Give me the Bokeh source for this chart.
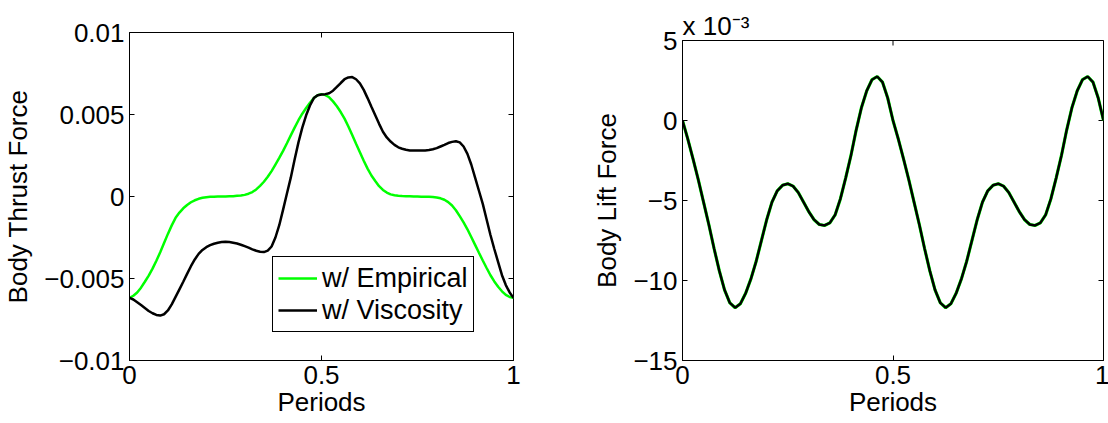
import math
from bokeh.plotting import figure
from bokeh.layouts import row, column
from bokeh.models import (FixedTicker, CustomJSTickFormatter, Title,
                          Legend, LegendItem, Range1d)
from bokeh.embed import file_html
from bokeh.resources import INLINE

# ---------------- data ----------------
periods_thrust = [0.00, 0.01, 0.02, 0.03, 0.04, 0.05, 0.06, 0.07, 0.08, 0.09,
                  0.10, 0.11, 0.12, 0.13, 0.14, 0.15, 0.16, 0.17, 0.18, 0.19,
                  0.20, 0.21, 0.22, 0.23, 0.24, 0.25, 0.26, 0.27, 0.28, 0.29,
                  0.30, 0.31, 0.32, 0.33, 0.34, 0.35, 0.36, 0.37, 0.38, 0.39,
                  0.40, 0.41, 0.42, 0.43, 0.44, 0.45, 0.46, 0.47, 0.48, 0.49,
                  0.50, 0.51, 0.52, 0.53, 0.54, 0.55, 0.56, 0.57, 0.58, 0.59,
                  0.60, 0.61, 0.62, 0.63, 0.64, 0.65, 0.66, 0.67, 0.68, 0.69,
                  0.70, 0.71, 0.72, 0.73, 0.74, 0.75, 0.76, 0.77, 0.78, 0.79,
                  0.80, 0.81, 0.82, 0.83, 0.84, 0.85, 0.86, 0.87, 0.88, 0.89,
                  0.90, 0.91, 0.92, 0.93, 0.94, 0.95, 0.96, 0.97, 0.98, 0.99, 1.00]

thrust_empirical = [
    -0.00618, -0.00605, -0.00585, -0.00556, -0.00520, -0.00482, -0.00440, -0.00392, -0.00340, -0.00284,
    -0.00228, -0.00176, -0.00130, -0.00098, -0.00072, -0.00052, -0.00035, -0.00023, -0.00014, -0.00008,
    -0.00004, -0.00002, -0.00001, 0.00000, 0.00000, 0.00000, 0.00001, 0.00002, 0.00004, 0.00006,
    0.00010, 0.00017, 0.00027, 0.00043, 0.00065, 0.00090, 0.00120, 0.00155, 0.00195, 0.00235,
    0.00278, 0.00325, 0.00373, 0.00420, 0.00465, 0.00505, 0.00540, 0.00572, 0.00600, 0.00617,
    0.00624, 0.00618, 0.00605, 0.00580, 0.00550, 0.00515, 0.00475, 0.00427, 0.00375, 0.00322,
    0.00270, 0.00218, 0.00170, 0.00128, 0.00095, 0.00063, 0.00040, 0.00024, 0.00013, 0.00008,
    0.00005, 0.00003, 0.00002, 0.00001, 0.00000, 0.00000, -0.00001, -0.00001, -0.00002, -0.00003,
    -0.00006, -0.00011, -0.00020, -0.00034, -0.00055, -0.00084, -0.00120, -0.00158, -0.00200, -0.00247,
    -0.00295, -0.00343, -0.00390, -0.00436, -0.00480, -0.00518, -0.00550, -0.00578, -0.00600, -0.00613,
    -0.00618]

thrust_viscosity = [
    -0.00618, -0.00628, -0.00645, -0.00662, -0.00680, -0.00698, -0.00712, -0.00722, -0.00726, -0.00718,
    -0.00695, -0.00658, -0.00612, -0.00566, -0.00520, -0.00472, -0.00425, -0.00384, -0.00350, -0.00326,
    -0.00309, -0.00297, -0.00288, -0.00282, -0.00278, -0.00276, -0.00278, -0.00282, -0.00287, -0.00294,
    -0.00303, -0.00312, -0.00322, -0.00331, -0.00337, -0.00339, -0.00330, -0.00305, -0.00250, -0.00175,
    -0.00080, 0.00018, 0.00115, 0.00225, 0.00330, 0.00420, 0.00495, 0.00555, 0.00600, 0.00618,
    0.00622, 0.00624, 0.00630, 0.00645, 0.00668, 0.00692, 0.00715, 0.00726, 0.00728, 0.00715,
    0.00690, 0.00650, 0.00600, 0.00547, 0.00495, 0.00443, 0.00395, 0.00360, 0.00335, 0.00315,
    0.00300, 0.00291, 0.00285, 0.00281, 0.00280, 0.00280, 0.00280, 0.00281, 0.00283, 0.00288,
    0.00295, 0.00305, 0.00315, 0.00326, 0.00333, 0.00337, 0.00330, 0.00305, 0.00260, 0.00195,
    0.00115, 0.00035, -0.00045, -0.00140, -0.00235, -0.00320, -0.00400, -0.00480, -0.00540, -0.00585,
    -0.00618]

periods_lift = [0.0, 0.0125, 0.025, 0.0375, 0.05, 0.0625, 0.075, 0.0875, 0.1, 0.1125,
                0.125, 0.1375, 0.15, 0.1625, 0.175, 0.1875, 0.2, 0.2125, 0.225, 0.2375,
                0.25, 0.2625, 0.275, 0.2875, 0.3, 0.3125, 0.325, 0.3375, 0.35, 0.3625,
                0.375, 0.3875, 0.4, 0.4125, 0.425, 0.4375, 0.45, 0.4625, 0.475, 0.4875,
                0.5, 0.5125, 0.525, 0.5375, 0.55, 0.5625, 0.575, 0.5875, 0.6, 0.6125,
                0.625, 0.6375, 0.65, 0.6625, 0.675, 0.6875, 0.7, 0.7125, 0.725, 0.7375,
                0.75, 0.7625, 0.775, 0.7875, 0.8, 0.8125, 0.825, 0.8375, 0.85, 0.8625,
                0.875, 0.8875, 0.9, 0.9125, 0.925, 0.9375, 0.95, 0.9625, 0.975, 0.9875, 1.0]

# lift values, in units of 1e-3 (axis shows "x 10^-3")
lift_e3 = [0.0, -1.15, -2.4, -3.7, -5.1, -6.5, -8.0, -9.4, -10.6, -11.4,
           -11.7, -11.45, -10.8, -9.9, -8.8, -7.5, -6.2, -5.1, -4.4, -4.05,
           -3.95, -4.1, -4.5, -5.1, -5.7, -6.2, -6.5, -6.56, -6.4, -5.9,
           -4.9, -3.6, -2.2, -0.6, 0.8, 1.85, 2.55, 2.75, 2.4, 1.4,
           0.0, -1.15, -2.4, -3.7, -5.1, -6.5, -8.0, -9.4, -10.6, -11.4,
           -11.7, -11.45, -10.8, -9.9, -8.8, -7.5, -6.2, -5.1, -4.4, -4.05,
           -3.95, -4.1, -4.5, -5.1, -5.7, -6.2, -6.5, -6.56, -6.4, -5.9,
           -4.9, -3.6, -2.2, -0.6, 0.8, 1.85, 2.55, 2.75, 2.4, 1.4, 0.0]

x_range_lim = (0, 1)
thrust_range_lim = (-0.01, 0.01)
lift_range_lim = (-15, 5)
x_ticks = [0, 0.5, 1]
thrust_ticks = [-0.01, -0.005, 0, 0.005, 0.01]
lift_ticks = [-15, -10, -5, 0, 5]

legend_labels = ["w/ Empirical", "w/ Viscosity"]
x_label = "Periods"
thrust_label = "Body Thrust Force"
lift_label = "Body Lift Force"
exponent_text = "x 10\u207b\u00b3"

GREEN = "#00ff00"
BLACK = "#000000"
FONT = "Liberation Sans"
FS = "26px"

fmt_code = """
if (Math.abs(tick) < 1e-12) { return '0'; }
var s = String(Number(tick.toPrecision(6)));
return s.replace('-', '\u2212');
"""


def style(p, yticks, ylim):
    p.xgrid.visible = False
    p.ygrid.visible = False
    p.outline_line_color = BLACK
    p.outline_line_width = 1
    p.outline_line_alpha = 1
    p.background_fill_color = "white"
    p.border_fill_color = "white"
    for ax in (p.xaxis[0], p.yaxis[0]):
        ax.major_tick_in = 5
        ax.major_tick_out = 0
        ax.minor_tick_in = 0
        ax.minor_tick_out = 0
        ax.axis_line_color = BLACK
        ax.major_tick_line_color = BLACK
        ax.major_label_text_font = FONT
        ax.major_label_text_font_size = FS
        ax.major_label_text_color = BLACK
        ax.axis_label_text_font = FONT
        ax.axis_label_text_font_size = FS
        ax.axis_label_text_font_style = "normal"
        ax.axis_label_text_color = BLACK
        ax.formatter = CustomJSTickFormatter(code=fmt_code)
    p.xaxis[0].ticker = FixedTicker(ticks=x_ticks)
    p.yaxis[0].ticker = FixedTicker(ticks=yticks)
    p.xaxis[0].major_label_standoff = 5
    p.yaxis[0].major_label_standoff = 5
    p.xaxis[0].axis_label_standoff = 0
    p.yaxis[0].axis_label_standoff = 8
    # inward box ticks on the top and right edges (half of each dash is clipped by the frame)
    p.scatter(x_ticks, [ylim[1]] * len(x_ticks), marker="dash", size=10, angle=math.pi / 2,
              line_color=BLACK, line_width=1)
    p.scatter([x_range_lim[1]] * len(yticks), yticks, marker="dash", size=10,
              line_color=BLACK, line_width=1)


# ---------------- left: thrust ----------------
p1 = figure(frame_width=384, frame_height=328,
            x_range=Range1d(*x_range_lim), y_range=Range1d(*thrust_range_lim),
            min_border_left=128, min_border_right=48, min_border_top=32,
            min_border_bottom=63, output_backend="svg", toolbar_location=None,
            x_axis_label=x_label, y_axis_label=thrust_label)
style(p1, thrust_ticks, thrust_range_lim)
g1 = p1.line(periods_thrust, thrust_empirical, line_color=GREEN, line_width=2.5)
b1 = p1.line(periods_thrust, thrust_viscosity, line_color=BLACK, line_width=2.5)
legend = Legend(items=[LegendItem(label=legend_labels[0], renderers=[g1]),
                       LegendItem(label=legend_labels[1], renderers=[b1])],
                location=(143, 28), padding=5, spacing=0, margin=0,
                label_height=32, glyph_height=32, glyph_width=39, label_standoff=5,
                label_text_font=FONT, label_text_font_size="27px", label_text_color=BLACK,
                border_line_color=BLACK, border_line_width=1, border_line_alpha=1,
                background_fill_color="white", background_fill_alpha=1)
p1.add_layout(legend)

# ---------------- right: lift ----------------
p2 = figure(frame_width=421, frame_height=320,
            x_range=Range1d(*x_range_lim), y_range=Range1d(*lift_range_lim),
            min_border_left=121, min_border_right=6, min_border_top=40,
            min_border_bottom=63, output_backend="svg", toolbar_location=None,
            x_axis_label=x_label, y_axis_label=lift_label)
style(p2, lift_ticks, lift_range_lim)
p2.add_layout(Title(text=exponent_text, align="left", offset=0, standoff=0,
                    text_font=FONT, text_font_size=FS, text_font_style="normal",
                    text_color=BLACK), "above")
p2.line(periods_lift, lift_e3, line_color=GREEN, line_width=3.2)
p2.line(periods_lift, lift_e3, line_color=BLACK, line_width=2.5)

layout = row(column(p1), column(p2))
open("out.html", "w").write(file_html(layout, INLINE))
